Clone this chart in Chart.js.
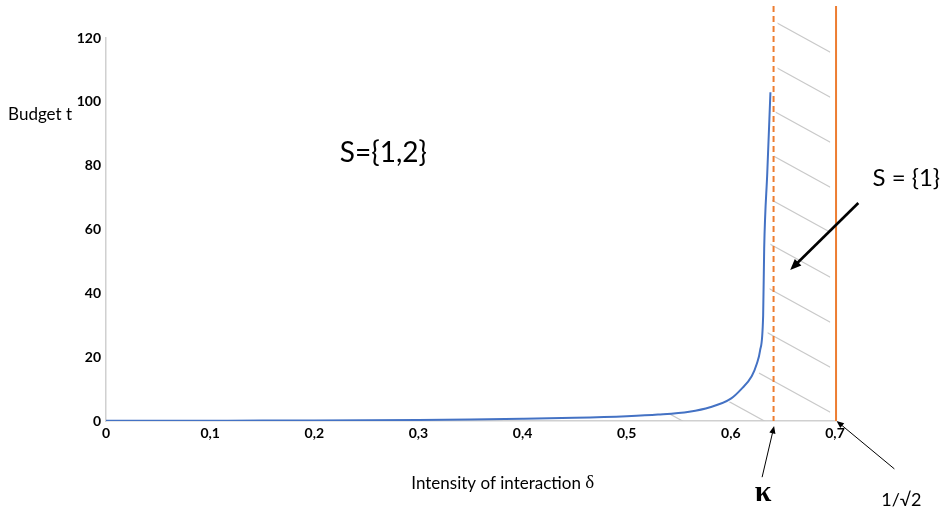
<!DOCTYPE html>
<html>
<head>
<meta charset="utf-8">
<script src="https://cdn.jsdelivr.net/npm/chart.js@4.4.0/dist/chart.umd.min.js"></script>
<style>
  html, body { margin: 0; padding: 0; background: #fff; }
  #wrap { width: 945px; height: 514px; }
</style>
</head>
<body>
<div id="wrap"><canvas id="budgetChart"></canvas></div>
<script>
// intensity of interaction (delta) and budget t
const deltaVals  = [0, 0.05, 0.1, 0.15, 0.2, 0.25, 0.3, 0.35, 0.4, 0.45, 0.5, 0.53, 0.56, 0.58, 0.6, 0.61, 0.62, 0.625, 0.628, 0.631, 0.632, 0.635, 0.638];
const budgetVals = [0.05, 0.07, 0.1, 0.13, 0.18, 0.25, 0.35, 0.5, 0.7, 1.0, 1.5, 2.0, 2.9, 4.3, 7.0, 10, 14, 18, 22, 33, 54, 78, 103];

const xTicks = [0, 0.1, 0.2, 0.3, 0.4, 0.5, 0.6, 0.7];
const yTicks = [0, 20, 40, 60, 80, 100, 120];

const kappa = 0.641;      // dashed limit
const invSqrt2 = 0.701;   // solid limit, as drawn

const blue = '#4472c4';
const orange = '#ed7d31';

// annotation anchors in data units
const notes = {
  budget:    { x: -0.094, y: 96 },
  s12:       { x: 0.2245, y: 84 },
  s1:        { x: 0.736, y: 76 },
  s1Arrow:   { from: { x: 0.7224, y: 68.3 }, to: { x: 0.657, y: 47.3 } },
  kappaTxt:  { x: 0.631, y: -22.6 },
  kappaArr:  { from: { x: 0.630, y: -17.6 }, to: { x: 0.6415, y: -1.6 } },
  rootTxt:   { x: 0.7637, y: -24.8 },
  rootArr:   { from: { x: 0.757, y: -15 }, to: { x: 0.7015, y: 0 } },
  xTitle:    { x: 0.381, y: -19.7 }
};

function arrow(ctx, x1, y1, x2, y2, width, head) {
    const ang = Math.atan2(y2 - y1, x2 - x1);
    ctx.save();
    ctx.strokeStyle = '#000';
    ctx.fillStyle = '#000';
    ctx.lineWidth = width;
    ctx.beginPath();
    ctx.moveTo(x1, y1);
    ctx.lineTo(x2 - Math.cos(ang) * head * 0.8, y2 - Math.sin(ang) * head * 0.8);
    ctx.stroke();
    ctx.beginPath();
    ctx.moveTo(x2, y2);
    ctx.lineTo(x2 - head * Math.cos(ang - 0.4), y2 - head * Math.sin(ang - 0.4));
    ctx.lineTo(x2 - head * Math.cos(ang + 0.4), y2 - head * Math.sin(ang + 0.4));
    ctx.closePath();
    ctx.fill();
    ctx.restore();
}

const extras = {
    id: 'extras',
    beforeDatasetsDraw(chart) {
        // hatched region between the curve and 1/sqrt2
        const { ctx, scales: { x, y } } = chart;
        const pts = chart.getDatasetMeta(0).data;
        const bottom = y.getPixelForValue(0);
        const top = y.getPixelForValue(129);
        const right = x.getPixelForValue(0.6955);
        ctx.save();
        ctx.beginPath();
        let started = false;
        pts.forEach((p, i) => {
            if (deltaVals[i] < 0.5) return;
            if (!started) { ctx.moveTo(p.x + 6, bottom); started = true; }
            ctx.lineTo(p.x + 6, p.y);
        });
        ctx.lineTo(x.getPixelForValue(kappa) + 4, y.getPixelForValue(103));
        ctx.lineTo(x.getPixelForValue(kappa) + 4, top);
        ctx.lineTo(right, top);
        ctx.lineTo(right, bottom);
        ctx.closePath();
        ctx.clip();
        ctx.strokeStyle = '#c9c9c9';
        ctx.lineWidth = 1.2;
        const slope = 0.55;
        for (let k = -1; k < 14; k++) {
            const yr = top + 43 + 45 * k;
            ctx.beginPath();
            ctx.moveTo(right, yr);
            ctx.lineTo(right - 300, yr - 300 * slope);
            ctx.stroke();
        }
        ctx.restore();
    },
    afterDraw(chart) {
        const { ctx, scales: { x, y } } = chart;
        const px = v => x.getPixelForValue(v);
        const py = v => y.getPixelForValue(v);
        ctx.save();
        // vertical limits
        ctx.strokeStyle = orange;
        ctx.lineWidth = 2;
        ctx.setLineDash([6, 4]);
        ctx.beginPath();
        ctx.moveTo(px(kappa), py(130));
        ctx.lineTo(px(kappa), py(0));
        ctx.stroke();
        ctx.setLineDash([]);
        ctx.beginPath();
        ctx.moveTo(px(invSqrt2), py(130));
        ctx.lineTo(px(invSqrt2), py(0));
        ctx.stroke();

        // arrows
        const a = notes.s1Arrow, b = notes.kappaArr, c = notes.rootArr;
        arrow(ctx, px(a.from.x), py(a.from.y), px(a.to.x), py(a.to.y), 2.6, 12);
        arrow(ctx, px(b.from.x), py(b.from.y), px(b.to.x), py(b.to.y), 1, 8);
        arrow(ctx, px(c.from.x), py(c.from.y), px(c.to.x), py(c.to.y), 1, 8);

        // texts
        ctx.fillStyle = '#000';
        ctx.textBaseline = 'middle';
        ctx.textAlign = 'left';
        ctx.font = '17px Lato';
        ctx.fillText('Budget t', px(notes.budget.x), py(notes.budget.y));
        ctx.font = '28px Lato';
        ctx.fillText('S={1,2}', px(notes.s12.x), py(notes.s12.y));
        ctx.font = '24px Lato';
        ctx.fillText('S = {1}', px(notes.s1.x), py(notes.s1.y));

        ctx.textAlign = 'center';
        ctx.font = 'bold 30px "Liberation Serif"';
        ctx.fillText('\u03ba', px(notes.kappaTxt.x), py(notes.kappaTxt.y));
        ctx.font = '18px Lato';
        ctx.fillText('1/\u221a2', px(notes.rootTxt.x), py(notes.rootTxt.y));

        // x axis title: text + symbol delta
        ctx.textAlign = 'left';
        ctx.font = '17px Lato';
        const t1 = 'Intensity of interaction ';
        const w1 = ctx.measureText(t1).width;
        ctx.font = '19px "Liberation Serif"';
        const w2 = ctx.measureText('\u03b4').width;
        const x0 = px(notes.xTitle.x) - (w1 + w2) / 2;
        ctx.font = '17px Lato';
        ctx.fillText(t1, x0, py(notes.xTitle.y));
        ctx.font = '19px "Liberation Serif"';
        ctx.fillText('\u03b4', x0 + w1, py(notes.xTitle.y) - 1);
        ctx.restore();
    }
};

const ctx = document.getElementById('budgetChart').getContext('2d');
new Chart(ctx, {
    type: 'line',
    data: {
        datasets: [{
            data: deltaVals.map((d, i) => ({ x: d, y: budgetVals[i] })),
            borderColor: blue,
            borderWidth: 2,
            pointRadius: 0,
            cubicInterpolationMode: 'monotone',
            fill: false
        }]
    },
    options: {
        responsive: true,
        maintainAspectRatio: false,
        animation: false,
        layout: { padding: { left: 0, right: 110, top: 38, bottom: 0 } },
        plugins: { legend: { display: false }, tooltip: { enabled: false } },
        scales: {
            x: {
                type: 'linear',
                min: 0, max: 0.7,
                afterBuildTicks: s => { s.ticks = xTicks.map(v => ({ value: v })); },
                afterFit: s => { s.height = 93; },
                grid: { display: false, drawTicks: false },
                border: { color: '#d0d0d0', width: 1.5 },
                ticks: {
                    padding: 4,
                    color: '#000',
                    font: { family: 'Lato', size: 14, weight: 'bold' },
                    callback: v => v === 0 ? '0' : v.toFixed(1).replace('.', ',')
                }
            },
            y: {
                min: 0, max: 120,
                afterBuildTicks: s => { s.ticks = yTicks.map(v => ({ value: v })); },
                afterFit: s => { s.width = 106; },
                grid: { display: false, drawTicks: false },
                border: { color: '#d0d0d0', width: 1.5 },
                ticks: {
                    padding: 5,
                    color: '#000',
                    font: { family: 'Lato', size: 14, weight: 'bold' }
                }
            }
        }
    },
    plugins: [extras]
});
</script>
</body>
</html>
